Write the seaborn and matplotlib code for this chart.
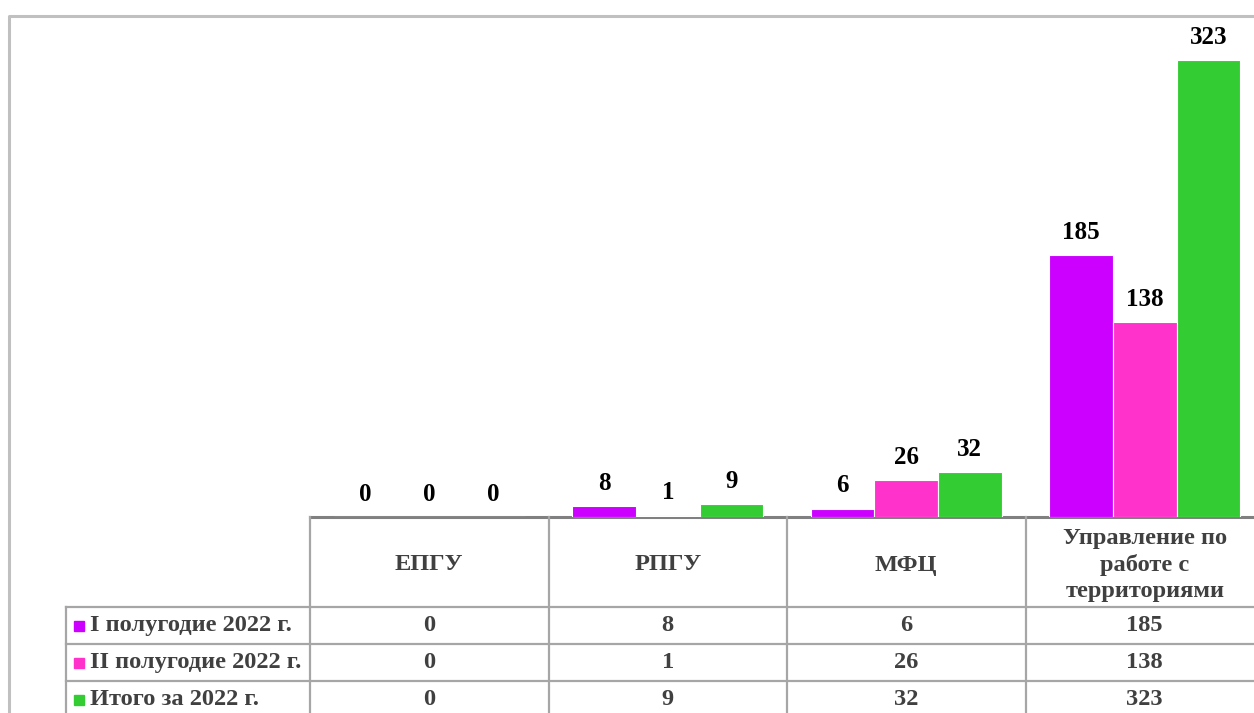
import pandas as pd
import seaborn as sns
import matplotlib.pyplot as plt
from matplotlib.patches import Rectangle

categories = ["ЕПГУ", "РПГУ", "МФЦ", "Управление по\nработе с\nтерриториями"]
series = ["I полугодие 2022 г.", "II полугодие 2022 г.", "Итого за 2022 г."]
first_half = [0, 8, 6, 185]
second_half = [0, 1, 26, 138]
total = [0, 9, 32, 323]
colors = ["#CC00FF", "#FF33CC", "#33CC33"]

rows = []
for s, vals in zip(series, [first_half, second_half, total]):
    for c, v in zip(categories, vals):
        rows.append({"cat": c, "series": s, "value": v})
df = pd.DataFrame(rows)

plt.rcParams["font.family"] = ["Liberation Serif", "DejaVu Serif"]
plt.rcParams["font.weight"] = "bold"

W, H = 1254, 713
fig = plt.figure(figsize=(W / 100, H / 100), dpi=100)

# pixel layout
x0 = 310
colw = 238.5
base = 517
top = 22
fs = 17.6

ax = fig.add_axes([x0 / W, (H - base) / H, 4 * colw / W, (base - top) / H])
sns.barplot(data=df, x="cat", y="value", hue="series", palette=colors,
            saturation=1, width=0.8, edgecolor="white", linewidth=0.8,
            legend=False, ax=ax)
ax.set_xlim(-0.5, 3.5)
ax.set_ylim(0, 350)
ax.axis("off")
for cont in ax.containers:
    ax.bar_label(cont, padding=8, fontsize=18, fontweight="bold", color="black")

# table overlay in pixel coordinates
tab = fig.add_axes([0, 0, 1, 1], zorder=-1)
tab.set_xlim(0, W)
tab.set_ylim(H, 0)
tab.axis("off")

# outer chart border
tab.plot([8.5, 8.5, W + 5], [H + 5, 15.5, 15.5], color="#C0C0C0", lw=2.2)

grid = "#A6A6A6"
row_y = [607, 644, 681, 718]
right = x0 + 4 * colw
tab.plot([x0, right], [base, base], color="#808080", lw=2.2)
for y in row_y[:3]:
    tab.plot([66, right], [y, y], color=grid, lw=1.6)
for i in range(4):
    tab.plot([x0 + i * colw] * 2, [base, H + 5], color=grid, lw=1.6)
tab.plot([66, 66], [row_y[0], H + 5], color=grid, lw=1.6)

txt = "#404040"
for i, c in enumerate(categories):
    tab.text(x0 + (i + 0.5) * colw, 565, c, ha="center", va="center",
             fontsize=fs, fontweight="bold", color=txt, linespacing=1.33)

for r, (s, vals, col) in enumerate(zip(series, [first_half, second_half, total], colors)):
    yc = (row_y[r] + row_y[r + 1]) / 2
    tab.add_patch(Rectangle((74, yc - 5), 10, 10, color=col))
    tab.text(90, yc, s, ha="left", va="center", fontsize=fs,
             fontweight="bold", color=txt)
    for i, v in enumerate(vals):
        tab.text(x0 + (i + 0.5) * colw, yc, str(v), ha="center", va="center",
                 fontsize=fs, fontweight="bold", color=txt)

fig.savefig("out.png", dpi=100)
